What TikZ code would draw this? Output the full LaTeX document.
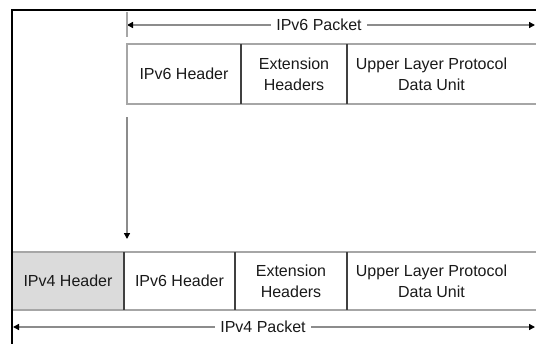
\documentclass[tikz,border=0pt]{standalone}
\usepackage{fontspec}
\setmainfont{Liberation Sans}
\usetikzlibrary{arrows.meta,positioning}

\begin{document}
\begin{tikzpicture}[
        x=0.5pt, y=-0.5pt,
        cell/.style={rectangle, inner sep=0pt, outer sep=0pt, minimum height=30pt,
        align=center, font=\fontsize{8}{10.5}\selectfont, text=black!90},
        rim/.style={draw=black!35, line width=0.8pt},
        divider/.style={draw=black!75, line width=0.8pt},
        span/.style={draw=black!45, line width=0.7pt, -{Triangle[length=3pt,width=3pt,color=black]}},
        tag/.style={font=\fontsize{8}{10}\selectfont, text=black!90, inner xsep=2.5pt}
    ]
\clip (0,0) rectangle (536,344);
\coordinate (edge) at (545,0);

% IPv6 packet
        \node[cell, minimum width=57pt, anchor=north west] (hdrsix) at (127,44) {IPv6 Header};
        \node[cell, minimum width=53pt, right=0pt of hdrsix] (extsix) {Extension\\ Headers};
        \node[cell, minimum width=84.5pt, right=0pt of extsix] (upsix) {Upper Layer Protocol\\ Data Unit};
        \draw[rim] (hdrsix.north west -| edge) -- (hdrsix.north west) -- (hdrsix.south west) -- (hdrsix.south west -| edge);
        \draw[divider] (extsix.north west) -- (extsix.south west);
        \draw[divider] (upsix.north west) -- (upsix.south west);

% IPv6 packet span
        \node[tag] (pktsix) at (319,25) {IPv6 Packet};
        \coordinate (sixl) at (127,25);
        \coordinate (sixr) at (535,25);
        \draw[span] (pktsix) -- (sixl);
        \draw[span] (pktsix) -- (sixr);
        \draw[rim] (127,12) -- (127,37);

% Encapsulation
        \coordinate (drop) at (127,117);
        \coordinate (land) at (127,239);
        \draw[span] (drop) -- (land);

% IPv4 packet
        \node[cell, minimum width=56pt, minimum height=29pt, anchor=north west, fill=black!14] (hdrfour) at (12,252) {IPv4 Header};
        \node[cell, minimum width=55.5pt, minimum height=29pt, right=0pt of hdrfour] (hdrsixb) {IPv6 Header};
        \node[cell, minimum width=56pt, minimum height=29pt, right=0pt of hdrsixb] (extsixb) {Extension\\ Headers};
        \node[cell, minimum width=84.5pt, minimum height=29pt, right=0pt of extsixb] (upsixb) {Upper Layer Protocol\\ Data Unit};
        \draw[rim] (hdrfour.north west) -- (hdrfour.north west -| edge);
        \draw[rim] (hdrfour.south west) -- (hdrfour.south west -| edge);
        \draw[divider] (hdrsixb.north west) -- (hdrsixb.south west);
        \draw[divider] (extsixb.north west) -- (extsixb.south west);
        \draw[divider] (upsixb.north west) -- (upsixb.south west);

% IPv4 packet span
        \node[tag] (pktfour) at (263,327) {IPv4 Packet};
        \coordinate (fourl) at (13,327);
        \coordinate (fourr) at (535,327);
        \draw[span] (pktfour) -- (fourl);
        \draw[span] (pktfour) -- (fourr);

% Frame
        \draw[line width=1.1pt] (536,10) -- (12,10) -- (12,344);

\end{tikzpicture}
\end{document}
